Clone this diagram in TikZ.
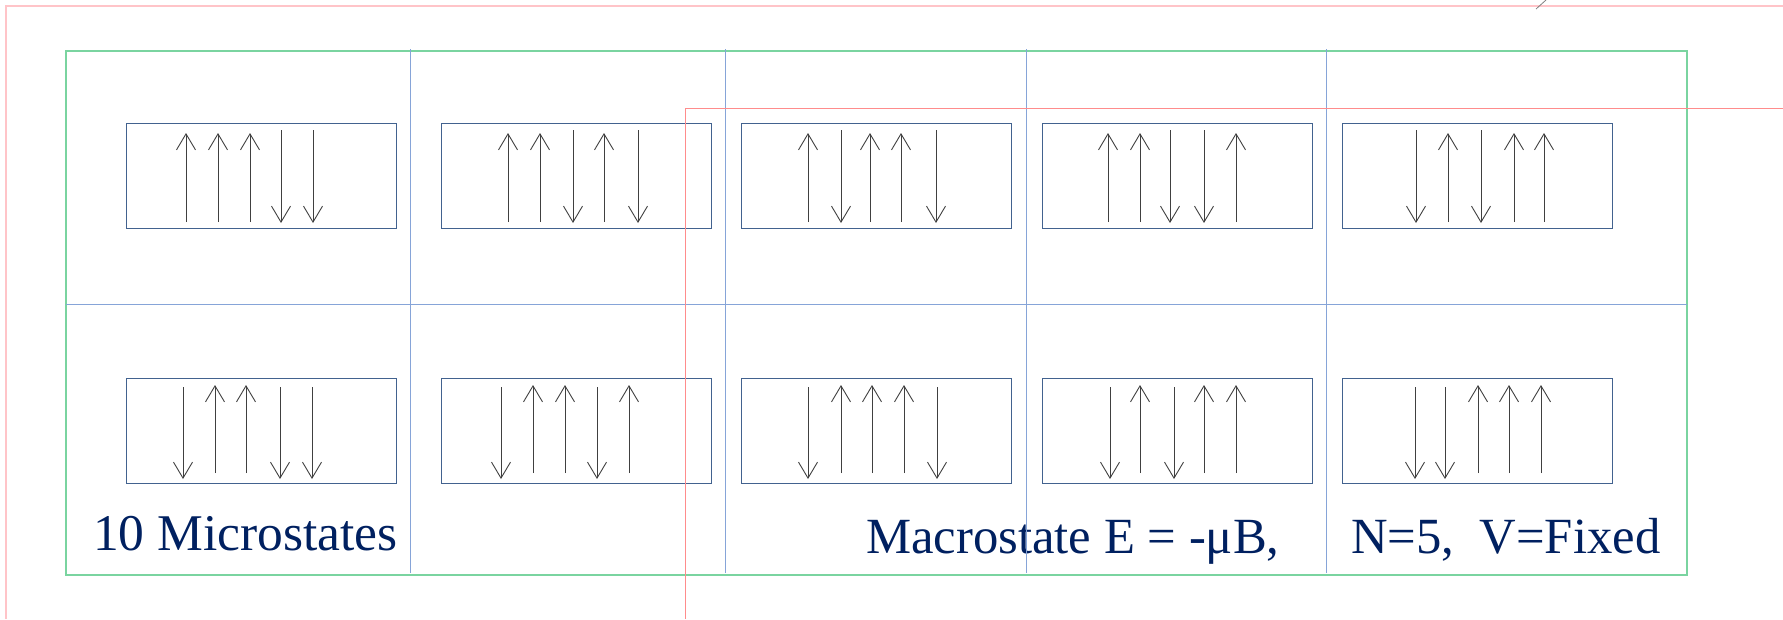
\documentclass[tikz,border=0pt]{standalone}
\usepackage{fontspec}
\setmainfont{Liberation Serif}
\usetikzlibrary{arrows.meta}
\definecolor{pinkA}{HTML}{FFC4C8}
\definecolor{pinkB}{HTML}{FF8C8C}
\definecolor{greenA}{HTML}{7AD4A0}
\definecolor{gridblue}{HTML}{86A4D8}
\definecolor{boxblue}{HTML}{42628F}
\definecolor{navy}{HTML}{002060}
\definecolor{spin}{HTML}{404040}
\begin{document}
\begin{tikzpicture}[x=1pt,y=-1pt,
  spinline/.style={draw=spin, line width=0.9pt, -{Straight Barb[length=16pt,width=19pt,line width=0.9pt]}},
  statebox/.style={draw=boxblue, line width=1.3pt, minimum width=270pt, minimum height=105pt, inner sep=0pt, anchor=north west},
  gridline/.style={draw=gridblue, line width=1pt},
  label/.style={text=navy, font=\fontsize{51.5}{60}\selectfont, inner sep=0pt, anchor=base west},
  labelb/.style={label, font=\fontsize{50.7}{60}\selectfont}]
\useasboundingbox (0,0) rectangle (1783,619);
% frames
\draw[pinkA, line width=1.3pt] (1783,6) -- (6,6) -- (6,619);
\draw[gray, line width=0.8pt] (1536,9) -- (1546,0);
\draw[greenA, line width=1.6pt] (66,51) rectangle (1687,575);
% labels
\node[label] (t1) at (93,550) {10 Microstates};
\node[labelb] (t2) at (866,553) {Macrostate E = -μB,};
\node[labelb] (t3) at (1351,553) {N=5,\ \ V=Fixed};
% grid
\foreach \gx in {410,725,1026,1326} \draw[gridline] (\gx,49) -- (\gx,573);
\draw[gridline] (66,304) -- (1687,304);
% state boxes
\foreach \bx [count=\i] in {126,441,741,1042,1342} {
  \node[statebox] (top\i) at (\bx,123) {};
  \node[statebox] (bot\i) at (\bx,378) {};
}
% spins top row
\foreach \sx in {186,218,250,508,540,604,808,870,901,1108,1140,1236,1448,1514,1544}
  \draw[spinline] (\sx,222) -- (\sx,133);
\foreach \sx in {281,313,573,638,841,936,1170,1204,1416,1481}
  \draw[spinline] (\sx,130) -- (\sx,223);
% spins bottom row
\foreach \sx in {215,246,533,565,629,841,872,904,1140,1204,1236,1478,1509,1541}
  \draw[spinline] (\sx,473) -- (\sx,385);
\foreach \sx in {183,280,312,501,597,808,937,1110,1174,1415,1445}
  \draw[spinline] (\sx,387) -- (\sx,479);
% inner pink frame
\draw[pinkB, line width=1pt] (1783,108) -- (685,108) -- (685,619);
\end{tikzpicture}
\end{document}
